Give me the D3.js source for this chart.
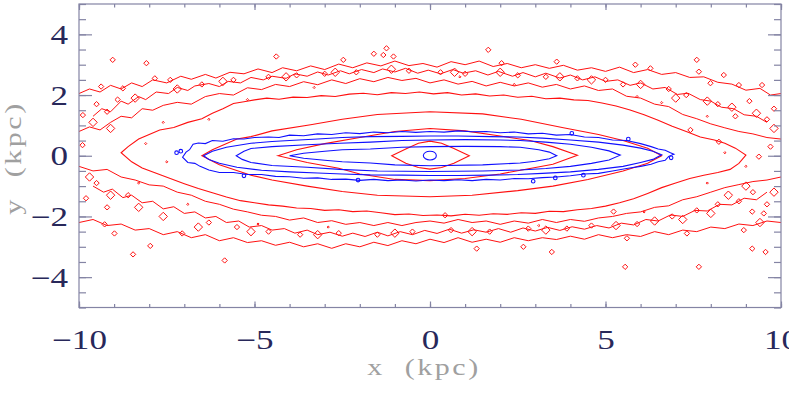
<!DOCTYPE html>
<html>
<head>
<meta charset="utf-8">
<script src="https://cdn.jsdelivr.net/npm/d3@7"></script>
<style>
  body { margin: 0; background: #ffffff; }
  svg { display: block; }
</style>
</head>
<body>
<div id="graph"></div>
<script>
// axis ticks (kpc)
const xMajorTicks = [-10, -5, 0, 5, 10];
const yMajorTicks = [-4, -2, 0, 2, 4];

// red contours, [x, y] in kpc
const redLens = [
  [-8.8, 0.1], [-8.6, 0.3], [-8.3, 0.55], [-8.0, 0.7], [-7.7, 0.85], [-7.3, 0.93], [-6.9, 1.1], [-6.5, 1.22],
  [-6.2, 1.4], [-5.9, 1.55], [-5.6, 1.72], [-5.3, 1.78], [-5.0, 1.84], [-4.65, 1.9], [-4.3, 1.86], [-3.9, 1.93],
  [-3.5, 1.92], [-3.1, 1.98], [-2.7, 1.95], [-2.3, 2.03], [-1.9, 2.06], [-1.5, 2.01], [-1.1, 2.08], [-0.7, 2.05],
  [-0.3, 2.1], [0.1, 2.04], [0.5, 2.08], [0.9, 2.0], [1.3, 2.04], [1.7, 1.97], [2.1, 2.0], [2.5, 1.93],
  [2.9, 1.96], [3.3, 1.88], [3.7, 1.9], [4.1, 1.84], [4.5, 1.82], [4.9, 1.74], [5.3, 1.64], [5.7, 1.51],
  [6.1, 1.35], [6.5, 1.17], [6.9, 0.97], [7.3, 0.8], [7.7, 0.62], [8.1, 0.52], [8.4, 0.41], [8.7, 0.25],
  [9.0, 0.02], [8.8, -0.25], [8.55, -0.45], [8.2, -0.55], [7.8, -0.64], [7.4, -0.75], [7.0, -0.9], [6.6, -1.05],
  [6.2, -1.24], [5.8, -1.42], [5.4, -1.55], [5.0, -1.66], [4.6, -1.74], [4.2, -1.78], [3.8, -1.84], [3.4, -1.83],
  [3.0, -1.9], [2.6, -1.88], [2.2, -1.93], [1.8, -1.91], [1.4, -1.96], [1.0, -1.93], [0.6, -1.98], [0.2, -1.95],
  [-0.2, -1.97], [-0.6, -1.92], [-1.0, -1.94], [-1.4, -1.88], [-1.8, -1.82], [-2.2, -1.84], [-2.6, -1.78], [-3.0, -1.8],
  [-3.4, -1.74], [-3.8, -1.72], [-4.2, -1.66], [-4.6, -1.62], [-5.0, -1.55], [-5.4, -1.48], [-5.8, -1.36], [-6.2, -1.22],
  [-6.6, -1.08], [-7.0, -0.92], [-7.4, -0.75], [-7.8, -0.58], [-8.2, -0.4], [-8.5, -0.2]
];
const redMid = [
  [-6.5, 0.0], [-6.2, 0.2], [-5.5, 0.55], [-5.1, 0.63], [-4.5, 0.82], [-3.4, 1.02], [-2.5, 1.2], [-1.5, 1.36],
  [0, 1.45], [1.5, 1.38], [2.6, 1.2], [3.8, 0.92], [4.8, 0.7], [5.5, 0.5], [6.2, 0.25], [6.6, 0.0],
  [6.2, -0.25], [5.5, -0.5], [4.5, -0.78], [3.5, -1.0], [2.5, -1.15], [1.2, -1.3], [0, -1.35], [-1.5, -1.3],
  [-2.5, -1.18], [-3.5, -1.0], [-4.5, -0.8], [-5.1, -0.64], [-6.0, -0.3]
];
const redInner = [
  [-4.33, 0.0], [-3.8, 0.2], [-3.0, 0.4], [-2.0, 0.6], [-1.0, 0.8], [0, 0.9], [1.0, 0.82], [2.0, 0.65],
  [2.85, 0.5], [3.5, 0.3], [4.2, 0.02], [3.5, -0.28], [2.85, -0.42], [2.0, -0.6], [1.0, -0.75], [0, -0.82],
  [-1.0, -0.78], [-2.0, -0.6], [-2.6, -0.41], [-3.5, -0.22]
];
const redCore = [
  [-1.09, 0.0], [-0.66, 0.24], [-0.33, 0.41], [0, 0.48], [0.33, 0.41], [0.68, 0.24], [1.12, 0.0],
  [0.68, -0.25], [0.33, -0.39], [0, -0.44], [-0.33, -0.39], [-0.69, -0.25]
];

// ragged outer bands (lowest red level), each edge runs across the plot
const bandTopOuter = [
  [-10, 2.05], [-9.7, 2.2], [-9.4, 2.1], [-9.1, 2.32], [-8.8, 2.2], [-8.5, 2.4], [-8.2, 2.28], [-7.9, 2.5],
  [-7.5, 2.4], [-7.1, 2.62], [-6.8, 2.52], [-6.4, 2.68], [-6.1, 2.56], [-5.7, 2.75], [-5.3, 2.7], [-4.9, 2.86],
  [-4.5, 2.74], [-4.2, 2.9], [-3.8, 2.8], [-3.4, 2.96], [-3.0, 2.84], [-2.6, 3.02], [-2.2, 2.9], [-1.8, 3.06],
  [-1.4, 2.96], [-1.0, 3.12], [-0.6, 2.97], [-0.2, 3.04], [0.2, 2.92], [0.6, 3.1], [1.0, 3.0], [1.4, 3.12],
  [1.8, 2.94], [2.2, 3.04], [2.6, 2.9], [3.0, 3.0], [3.4, 2.88], [3.8, 2.98], [4.2, 2.82], [4.6, 2.9],
  [5.0, 2.78], [5.4, 2.92], [5.8, 2.74], [6.2, 2.84], [6.6, 2.68], [7.0, 2.74], [7.4, 2.58], [7.8, 2.6],
  [8.2, 2.42], [8.6, 2.36], [9.0, 2.16], [9.4, 2.22], [9.7, 2.0], [10, 2.05]
];
const bandTopMiddle = [
  [-9.6, 1.3], [-9.35, 1.55], [-9.1, 1.45], [-8.8, 1.8], [-8.6, 1.7], [-8.3, 1.95], [-8.1, 1.85], [-7.8, 2.1],
  [-7.45, 2.05], [-7.2, 2.25], [-6.9, 2.15], [-6.7, 2.3], [-6.3, 2.38], [-6.0, 2.28], [-5.75, 2.45], [-5.4, 2.4],
  [-5.1, 2.58], [-4.75, 2.5], [-4.5, 2.62], [-4.1, 2.55], [-3.85, 2.7], [-3.5, 2.62], [-3.2, 2.76], [-2.9, 2.66],
  [-2.55, 2.8], [-2.3, 2.7], [-1.95, 2.84], [-1.6, 2.74], [-1.35, 2.86], [-1.0, 2.76], [-0.7, 2.88], [-0.35, 2.72],
  [-0.05, 2.82], [0.3, 2.7], [0.65, 2.84], [0.95, 2.72], [1.3, 2.8], [1.65, 2.66], [1.95, 2.78], [2.35, 2.62],
  [2.65, 2.74], [3.0, 2.6], [3.3, 2.72], [3.7, 2.56], [4.0, 2.66], [4.35, 2.5], [4.7, 2.6], [5.0, 2.45],
  [5.35, 2.5], [5.7, 2.32], [6.0, 2.4], [6.35, 2.2], [6.7, 2.25], [7.05, 2.02], [7.35, 2.06], [7.7, 1.85],
  [8.0, 1.8], [8.3, 1.6], [8.65, 1.55], [8.95, 1.35], [9.3, 1.3], [9.6, 1.1]
];
const bandTopInner = [
  [-10, 0.8], [-9.7, 0.95], [-9.4, 0.85], [-9.1, 1.1], [-8.8, 1.3], [-8.5, 1.25], [-8.2, 1.55], [-7.9, 1.5],
  [-7.6, 1.66], [-7.2, 1.76], [-6.8, 1.7], [-6.4, 1.95], [-6.0, 2.05], [-5.6, 2.0], [-5.2, 2.24], [-4.8, 2.18],
  [-4.4, 2.35], [-4.0, 2.28], [-3.6, 2.44], [-3.2, 2.34], [-2.8, 2.5], [-2.4, 2.38], [-2.0, 2.54], [-1.6, 2.44],
  [-1.2, 2.58], [-0.8, 2.48], [-0.4, 2.55], [0, 2.4], [0.4, 2.5], [0.8, 2.36], [1.2, 2.45], [1.6, 2.3],
  [2.0, 2.42], [2.4, 2.3], [2.8, 2.4], [3.2, 2.26], [3.6, 2.35], [4.0, 2.2], [4.4, 2.3], [4.8, 2.15],
  [5.2, 2.2], [5.6, 1.96], [6.0, 1.9], [6.4, 1.7], [6.8, 1.62], [7.2, 1.36], [7.6, 1.22], [8.0, 1.05],
  [8.4, 0.92], [8.8, 0.8], [9.2, 0.72], [9.6, 0.6], [10, 0.55]
];
const bandBottomInner = [
  [-10, -0.35], [-9.6, -0.5], [-9.2, -0.45], [-8.8, -0.7], [-8.4, -0.8], [-8.0, -0.96], [-7.6, -1.0], [-7.2, -1.2],
  [-6.8, -1.3], [-6.4, -1.5], [-6.0, -1.6], [-5.6, -1.76], [-5.2, -1.85], [-4.8, -1.96], [-4.4, -2.0], [-4.0, -2.12],
  [-3.6, -2.05], [-3.2, -2.2], [-2.8, -2.14], [-2.4, -2.26], [-2.0, -2.2], [-1.6, -2.3], [-1.2, -2.2], [-0.8, -2.3],
  [-0.4, -2.2], [0, -2.15], [0.4, -2.22], [0.8, -2.1], [1.2, -2.2], [1.6, -2.15], [2.0, -2.26], [2.4, -2.15],
  [2.8, -2.22], [3.2, -2.1], [3.6, -2.2], [4.0, -2.1], [4.4, -2.16], [4.8, -2.05], [5.2, -2.0], [5.6, -1.9],
  [6.0, -1.85], [6.4, -1.7], [6.8, -1.65], [7.2, -1.45], [7.6, -1.35], [8.0, -1.2], [8.4, -1.05], [8.8, -0.95],
  [9.2, -0.85], [9.6, -0.8], [10, -0.7]
];
const bandBottomMiddle = [
  [-9.6, -1.0], [-9.3, -1.2], [-9.05, -1.1], [-8.75, -1.38], [-8.5, -1.3], [-8.2, -1.55], [-7.9, -1.5], [-7.6, -1.75],
  [-7.3, -1.68], [-7.0, -1.9], [-6.7, -1.85], [-6.4, -2.05], [-6.1, -2.0], [-5.8, -2.2], [-5.45, -2.15], [-5.15, -2.35],
  [-4.8, -2.3], [-4.5, -2.45], [-4.15, -2.4], [-3.85, -2.55], [-3.5, -2.45], [-3.2, -2.6], [-2.85, -2.52], [-2.5, -2.65],
  [-2.2, -2.55], [-1.85, -2.66], [-1.5, -2.52], [-1.2, -2.64], [-0.85, -2.5], [-0.5, -2.6], [-0.15, -2.46], [0.2, -2.56],
  [0.55, -2.42], [0.9, -2.55], [1.25, -2.44], [1.6, -2.52], [1.95, -2.4], [2.3, -2.52], [2.65, -2.38], [3.0, -2.48],
  [3.35, -2.36], [3.7, -2.46], [4.05, -2.34], [4.4, -2.42], [4.75, -2.3], [5.1, -2.38], [5.45, -2.22], [5.8, -2.28],
  [6.15, -2.1], [6.5, -2.15], [6.85, -1.95], [7.2, -2.0], [7.55, -1.8], [7.9, -1.82], [8.25, -1.6], [8.6, -1.62],
  [8.95, -1.4], [9.3, -1.45], [9.6, -1.2]
];
const bandBottomOuter = [
  [-10, -2.2], [-9.6, -2.1], [-9.2, -2.3], [-8.8, -2.25], [-8.4, -2.45], [-8.0, -2.4], [-7.6, -2.6], [-7.2, -2.5],
  [-6.8, -2.7], [-6.4, -2.6], [-6.0, -2.8], [-5.6, -2.7], [-5.2, -2.86], [-4.8, -2.8], [-4.4, -2.95], [-4.0, -2.85],
  [-3.6, -3.0], [-3.2, -2.9], [-2.8, -3.05], [-2.4, -2.9], [-2.0, -3.0], [-1.6, -2.85], [-1.2, -2.96], [-0.8, -2.8],
  [-0.4, -2.9], [0, -2.75], [0.4, -2.86], [0.8, -2.7], [1.2, -2.85], [1.6, -2.75], [2.0, -2.85], [2.4, -2.7],
  [2.8, -2.8], [3.2, -2.7], [3.6, -2.76], [4.0, -2.65], [4.4, -2.75], [4.8, -2.6], [5.2, -2.7], [5.6, -2.6],
  [6.0, -2.66], [6.4, -2.5], [6.8, -2.6], [7.2, -2.45], [7.6, -2.5], [8.0, -2.35], [8.4, -2.4], [8.8, -2.25],
  [9.2, -2.3], [9.6, -2.15], [10, -2.2]
];

// small closed red loops (island centres, kpc)
const redIslands = [
  [-9.04, 3.16], [-8.08, 3.05], [-4.38, 3.27], [-1.24, 3.54], [-1.33, 3.32], [-1.04, 3.27], [-1.6, 3.36], [-2.47, 3.16],
  [1.66, 3.49], [2.04, 3.05], [3.61, 3.1], [7.6, 3.16], [5.85, 3.0], [6.28, 2.88], [7.66, 2.77], [8.37, 2.66],
  [8.8, 2.33], [9.46, 2.33], [7.99, 2.39], [-9.37, 2.28], [-8.75, 2.22], [-7.84, 2.55], [-7.4, 2.5], [-9.89, 1.34],
  [-9.5, 1.7], [-9.2, 1.45], [-8.9, 1.85], [-6.5, 2.35], [-5.6, 2.5], [-4.6, 2.6], [-3.8, 2.65], [-3.0, 2.7],
  [-2.1, 2.75], [-0.6, 2.8], [0.3, 2.75], [1.0, 2.7], [2.5, 2.65], [3.3, 2.6], [4.2, 2.55], [5.0, 2.5],
  [5.5, 2.35], [6.8, 2.2], [7.3, 2.0], [8.2, 1.7], [8.7, 1.3], [9.1, 1.8], [9.6, 1.2], [9.8, 1.55],
  [7.42, 0.85], [8.23, 0.46], [9.37, -0.03], [9.7, 0.3], [-9.9, 0.35], [-9.5, -0.9], [-9.8, -1.4], [-9.2, -1.7],
  [-8.6, -1.3], [-9.27, -2.26], [-8.99, -2.56], [-8.46, -3.25], [-7.97, -2.97], [-7.06, -2.56], [-6.3, -2.2], [-5.5, -2.35],
  [-4.6, -2.5], [-3.7, -2.6], [-2.6, -2.55], [-1.5, -2.6], [-0.5, -2.5], [0.6, -2.45], [1.7, -2.5], [2.8, -2.4],
  [3.9, -2.4], [4.6, -2.3], [5.9, -2.25], [6.9, -2.0], [7.6, -1.8], [8.2, -1.6], [8.8, -1.5], [9.2, -1.2],
  [9.6, -1.6], [9.51, -1.9], [9.18, -1.84], [8.94, -2.45], [9.18, -3.06], [9.56, -3.17], [5.56, -3.66], [7.66, -3.66],
  [3.47, -3.17], [2.66, -3.0], [1.33, -3.06], [0.43, -1.96], [5.23, -1.84], [5.61, -2.72], [7.32, -2.56], [-5.85, -3.45]
];
// larger loops sitting inside the bands
const redLoops = [
  [-9.6, 1.1], [-9.1, 0.9], [-8.4, 1.9], [-7.2, 2.2], [-5.9, 2.45], [-4.1, 2.6], [-2.7, 2.75], [-1.1, 2.85],
  [0.7, 2.75], [2.0, 2.75], [3.7, 2.6], [4.6, 2.5], [6.0, 2.35], [7.0, 1.9], [7.9, 1.8], [8.6, 1.6],
  [9.3, 1.4], [9.8, 0.9], [-9.7, -0.7], [-9.1, -1.3], [-8.3, -1.7], [-7.6, -2.0], [-6.6, -2.35], [-5.1, -2.5],
  [-3.2, -2.6], [-1.0, -2.55], [1.2, -2.5], [3.3, -2.45], [5.3, -2.3], [6.4, -2.15], [7.2, -2.1], [8.0, -1.9],
  [8.5, -1.3], [9.0, -1.0], [9.8, -1.2], [9.4, -2.2]
];
// single-cell red specks
const redSpecks = [
  [-6.3, 1.2], [-5.2, 1.85], [-7.6, 1.1], [-8.1, 0.4], [-7.5, -0.2], [-8.3, -0.9], [-6.9, -1.6], [-4.9, -2.25],
  [0.85, 2.6], [2.4, 2.35], [5.9, 1.95], [6.6, 1.75], [7.9, 1.3], [8.4, 0.1], [7.9, -0.9], [6.1, -1.85],
  [-2.9, -2.35], [3.1, -2.3], [-3.3, 2.25], [9.0, -0.35]
];

// blue contours
const blueOuter = [
  [-7.05, -0.05], [-6.95, 0.12], [-6.85, 0.2], [-6.75, 0.38], [-6.6, 0.42], [-6.4, 0.4], [-6.2, 0.5], [-5.9, 0.48],
  [-5.6, 0.56], [-5.3, 0.55], [-5.0, 0.6], [-4.6, 0.62], [-4.3, 0.6], [-4.0, 0.68], [-3.6, 0.66], [-3.2, 0.72],
  [-2.8, 0.7], [-2.4, 0.76], [-2.0, 0.73], [-1.6, 0.78], [-1.2, 0.76], [-0.8, 0.8], [-0.4, 0.77], [0, 0.8],
  [0.4, 0.78], [0.8, 0.82], [1.2, 0.79], [1.6, 0.8], [2.0, 0.76], [2.4, 0.78], [2.8, 0.72], [3.2, 0.74],
  [3.6, 0.68], [4.0, 0.7], [4.4, 0.62], [4.8, 0.6], [5.2, 0.52], [5.6, 0.5], [6.0, 0.4], [6.3, 0.3],
  [6.5, 0.22], [6.7, 0.18], [6.85, 0.1], [6.95, 0.05], [6.8, -0.02], [6.7, -0.15], [6.5, -0.2], [6.3, -0.28],
  [6.0, -0.35], [5.6, -0.42], [5.2, -0.5], [4.8, -0.58], [4.4, -0.6], [4.0, -0.66], [3.6, -0.7], [3.2, -0.72],
  [2.8, -0.76], [2.4, -0.75], [2.0, -0.8], [1.6, -0.78], [1.2, -0.82], [0.8, -0.79], [0.4, -0.82], [0, -0.8],
  [-0.4, -0.83], [-0.8, -0.8], [-1.2, -0.82], [-1.6, -0.78], [-2.0, -0.81], [-2.4, -0.77], [-2.8, -0.78], [-3.2, -0.73],
  [-3.6, -0.74], [-4.0, -0.69], [-4.4, -0.68], [-4.8, -0.62], [-5.2, -0.62], [-5.6, -0.55], [-6.0, -0.55], [-6.3, -0.47],
  [-6.55, -0.35], [-6.7, -0.25], [-6.9, -0.22]
];
const blueMid = [
  [-6.45, 0.0], [-6.2, 0.15], [-5.8, 0.28], [-5.1, 0.41], [-4.5, 0.47], [-4.0, 0.5], [-3.2, 0.55], [-2.5, 0.6],
  [-1.7, 0.63], [-0.8, 0.64], [0, 0.65], [0.8, 0.65], [1.7, 0.63], [2.5, 0.62], [3.2, 0.58], [4.0, 0.52],
  [4.8, 0.45], [5.5, 0.35], [6.0, 0.25], [6.35, 0.15], [6.6, 0.03], [6.35, -0.12], [6.0, -0.22], [5.5, -0.35],
  [4.8, -0.45], [4.0, -0.53], [3.2, -0.58], [2.5, -0.62], [1.7, -0.64], [0.8, -0.65], [0, -0.65], [-0.8, -0.64],
  [-1.7, -0.63], [-2.5, -0.6], [-3.2, -0.57], [-4.0, -0.53], [-4.8, -0.48], [-5.5, -0.38], [-6.0, -0.25], [-6.3, -0.12]
];
const blueInner = [
  [-5.52, 0.0], [-5.3, 0.15], [-5.1, 0.24], [-4.5, 0.3], [-3.5, 0.36], [-2.57, 0.41], [-1.7, 0.45], [-0.8, 0.5],
  [0, 0.52], [1.0, 0.53], [2.0, 0.52], [2.57, 0.5], [3.3, 0.45], [4.0, 0.38], [4.6, 0.28], [5.1, 0.16],
  [5.42, 0.02], [5.1, -0.14], [4.6, -0.25], [4.0, -0.35], [3.3, -0.42], [2.57, -0.47], [1.5, -0.5], [0, -0.52],
  [-1.5, -0.5], [-2.57, -0.45], [-3.5, -0.38], [-4.5, -0.32], [-5.1, -0.22], [-5.35, -0.12]
];
const blueThin = [
  [-4.0, 0.0], [-3.6, 0.08], [-3.0, 0.15], [-2.5, 0.2], [-1.7, 0.22], [-0.8, 0.28], [0, 0.3], [1.0, 0.31],
  [2.0, 0.3], [2.57, 0.28], [3.1, 0.2], [3.4, 0.12], [3.61, 0.0], [3.4, -0.1], [3.0, -0.18], [2.57, -0.24],
  [1.5, -0.3], [0, -0.33], [-1.0, -0.3], [-1.7, -0.24], [-2.5, -0.2], [-3.0, -0.15], [-3.6, -0.08]
];
const blueCore = [
  [-0.19, 0.0], [-0.13, 0.11], [0, 0.15], [0.13, 0.11], [0.18, 0.0], [0.13, -0.1], [0, -0.14], [-0.13, -0.1]
];
const blueIslands = [
  [-7.1, 0.15], [-7.22, 0.1], [2.94, -0.84], [3.57, -0.73], [4.37, -0.64], [4.04, 0.74], [5.65, 0.55], [6.87, -0.07],
  [-2.05, -0.8], [-5.3, -0.66]
];

function createChart() {
  const width = 789;
  const height = 395;
  const colorRed = "#ff1010";
  const colorBlue = "#1010ff";
  const frameColor = "#8484a4";
  const labelColor = "#28285a";
  const titleColor = "#a0a0a0";

  const left = 79, right = 781, top = 4, bottom = 307.5;
  const sx = 1.3; // horizontal stretch of the tick lettering
  const tx = 1.25; // and of the axis titles

  const x = d3.scaleLinear().domain([-10, 10]).range([left, right]);
  const y = d3.scaleLinear().domain([-5, 5]).range([bottom, top]);

  const svg = d3
    .select("#graph")
    .append("svg")
    .attr("width", width)
    .attr("height", height)
    .attr("viewBox", [0, 0, width, height])
    .style("font-family", "'Liberation Serif', 'DejaVu Serif', serif");

  svg.append("defs")
    .append("clipPath")
    .attr("id", "plot-clip")
    .append("rect")
    .attr("x", left)
    .attr("y", top)
    .attr("width", right - left)
    .attr("height", bottom - top);

  const plot = svg.append("g").attr("clip-path", "url(#plot-clip)");

  const closed = d3.line().x((d) => x(d[0])).y((d) => y(d[1])).curve(d3.curveLinearClosed);
  const open = d3.line().x((d) => x(d[0])).y((d) => y(d[1]));

  // red levels
  const red = plot.append("g").attr("fill", "none").attr("stroke", colorRed).attr("stroke-width", 1);
  red.selectAll(".band")
    .data([bandTopOuter, bandTopMiddle, bandTopInner, bandBottomInner, bandBottomMiddle, bandBottomOuter])
    .join("path")
    .attr("class", "band")
    .attr("d", open);
  red.selectAll(".level")
    .data([redLens, redMid, redInner, redCore])
    .join("path")
    .attr("class", "level")
    .attr("stroke-width", 1.1)
    .attr("d", closed);
  red.selectAll(".island")
    .data(redIslands)
    .join("path")
    .attr("class", "island")
    .attr("transform", (d) => `translate(${x(d[0])},${y(d[1])})`)
    .attr("d", d3.symbol(d3.symbolDiamond2, 18));
  red.selectAll(".loop")
    .data(redLoops)
    .join("path")
    .attr("class", "loop")
    .attr("transform", (d) => `translate(${x(d[0])},${y(d[1])})`)
    .attr("d", d3.symbol(d3.symbolDiamond2, 45));
  red.selectAll(".speck")
    .data(redSpecks)
    .join("path")
    .attr("class", "speck")
    .attr("transform", (d) => `translate(${x(d[0])},${y(d[1])})`)
    .attr("d", d3.symbol(d3.symbolDiamond2, 3));

  // blue levels
  const blue = plot.append("g").attr("fill", "none").attr("stroke", colorBlue).attr("stroke-width", 1.1);
  blue.selectAll(".level")
    .data([blueOuter, blueMid, blueInner, blueThin])
    .join("path")
    .attr("class", "level")
    .attr("d", closed);
  blue.append("path")
    .datum(blueCore)
    .attr("d", closed.curve(d3.curveCardinalClosed));
  blue.selectAll(".island")
    .data(blueIslands)
    .join("circle")
    .attr("class", "island")
    .attr("cx", (d) => x(d[0]))
    .attr("cy", (d) => y(d[1]))
    .attr("r", 1.8);

  // frame
  svg.append("rect")
    .attr("x", left)
    .attr("y", top)
    .attr("width", right - left)
    .attr("height", bottom - top)
    .attr("fill", "none")
    .attr("stroke", frameColor)
    .attr("stroke-width", 1.2);

  const fmt = d3.format("d");
  const styleTicks = (g) => {
    g.select(".domain").remove();
    g.selectAll(".tick line").attr("stroke", frameColor).attr("stroke-width", 1.2);
  };

  // x ticks, bottom and top
  svg.append("g").attr("transform", `translate(0,${bottom})`)
    .call(d3.axisBottom(x).tickValues(x.ticks(20)).tickSize(-3.5).tickFormat(""))
    .call(styleTicks);
  svg.append("g").attr("transform", `translate(0,${top})`)
    .call(d3.axisTop(x).tickValues(x.ticks(20)).tickSize(-3.5).tickFormat(""))
    .call(styleTicks);
  svg.append("g").attr("transform", `translate(0,${top})`)
    .call(d3.axisTop(x).tickValues(xMajorTicks).tickSize(-6).tickFormat(""))
    .call(styleTicks);
  svg.append("g").attr("transform", `translate(0,${bottom})`)
    .call(d3.axisBottom(x).tickValues(xMajorTicks).tickSize(-6).tickFormat(fmt))
    .call(styleTicks)
    .call((g) =>
      g.selectAll(".tick text")
        .attr("y", 42)
        .attr("dy", null)
        .attr("transform", `scale(${sx},1)`)
        .attr("fill", labelColor)
        .style("font-size", "27px")
        .style("font-family", "'Liberation Serif', serif")
    );

  // y ticks, left and right
  svg.append("g").attr("transform", `translate(${left},0)`)
    .call(d3.axisLeft(y).tickValues(y.ticks(20)).tickSize(-7).tickFormat(""))
    .call(styleTicks);
  svg.append("g").attr("transform", `translate(${right},0)`)
    .call(d3.axisRight(y).tickValues(y.ticks(20)).tickSize(-7).tickFormat(""))
    .call(styleTicks);
  svg.append("g").attr("transform", `translate(${right},0)`)
    .call(d3.axisRight(y).tickValues(yMajorTicks).tickSize(-13).tickFormat(""))
    .call(styleTicks);
  svg.append("g").attr("transform", `translate(${left},0)`)
    .call(d3.axisLeft(y).tickValues(yMajorTicks).tickSize(-13).tickFormat(fmt))
    .call(styleTicks)
    .call((g) =>
      g.selectAll(".tick text")
        .attr("x", -11 / sx)
        .attr("dy", "0.34em")
        .attr("transform", `scale(${sx},1)`)
        .attr("fill", labelColor)
        .style("font-size", "27px")
        .style("font-family", "'Liberation Serif', serif")
    );

  // axis titles
  svg.append("text")
    .attr("transform", `translate(424,375) scale(${tx},1)`)
    .attr("text-anchor", "middle")
    .attr("fill", titleColor)
    .style("font-size", "24px")
    .style("letter-spacing", "2px")
    .style("white-space", "pre")
    .text("x  (kpc)");

  svg.append("text")
    .attr("transform", `translate(21,158) rotate(-90) scale(${tx},1)`)
    .attr("text-anchor", "middle")
    .attr("fill", titleColor)
    .style("font-size", "24px")
    .style("letter-spacing", "2px")
    .style("white-space", "pre")
    .text("y  (kpc)");
}

document.addEventListener("DOMContentLoaded", createChart);
</script>
</body>
</html>
